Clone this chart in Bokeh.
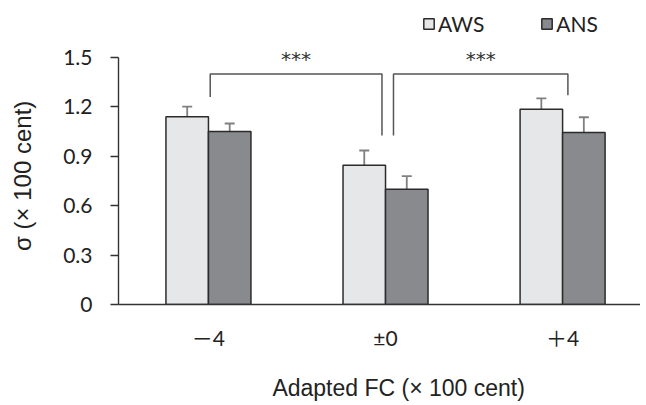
from bokeh.plotting import figure
from bokeh.models import (ColumnDataSource, Range1d, FixedTicker, Whisker, Legend, LegendItem)
from bokeh.transform import dodge
from bokeh.core.properties import value
from bokeh.embed import file_html
from bokeh.resources import INLINE

# ---- data ----
categories = ["－4", "±0", "＋4"]
cat_pos = [0, 1, 2]
aws = [1.14, 0.846, 1.186]
aws_lo = [1.081, 0.753, 1.123]
aws_hi = [1.202, 0.935, 1.251]
ans = [1.05, 0.70, 1.044]
ans_lo = [1.002, 0.621, 0.947]
ans_hi = [1.099, 0.779, 1.137]
y_ticks = [0, 0.3, 0.6, 0.9, 1.2, 1.5]
y_tick_labels = ["0", "0.3", "0.6", "0.9", "1.2", "1.5"]
# significance brackets: (x_left, x_right, y_top, y_left_bottom, y_right_bottom)
brackets = [(0.01, 0.98, 1.40, 1.26, 1.026), (1.045, 2.03, 1.40, 1.026, 1.27)]
stars = ["***", "***"]
x_title = "Adapted FC (× 100 cent)"
y_title = "σ (× 100 cent)"

NB = "\u00a0"
W, H = 640, 404
BW = 0.24
PX = 164.7  # pixels per unit on y
FONT = "Lato, 'Noto Sans CJK JP'"
TFONT = "'Liberation Sans', 'Noto Sans CJK JP'"

p = figure(width=W, height=H, output_backend="svg", toolbar_location=None,
           x_range=Range1d(-0.508, 2.44), y_range=Range1d(0, 304 / PX),
           min_border_left=118, min_border_right=0, min_border_top=0, min_border_bottom=100)
p.xgrid.visible = False
p.ygrid.visible = False
p.outline_line_color = None

src = ColumnDataSource(dict(x=cat_pos, aws=aws, ans=ans, aws_lo=aws_lo, aws_hi=aws_hi,
                            ans_lo=ans_lo, ans_hi=ans_hi))

r1 = p.vbar(x=dodge("x", -BW / 2, range=p.x_range), top="aws", width=BW, source=src,
            fill_color="#e6e7e8", line_color="#2b2b2b", line_width=1.5)
r2 = p.vbar(x=dodge("x", BW / 2, range=p.x_range), top="ans", width=BW, source=src,
            fill_color="#898a8d", line_color="#2b2b2b", line_width=1.5)

for base, lo, hi in [(dodge("x", -BW / 2, range=p.x_range), "aws_lo", "aws_hi"),
                     (dodge("x", BW / 2, range=p.x_range), "ans_lo", "ans_hi")]:
    w = Whisker(base=base, lower=lo, upper=hi, source=src, dimension="height",
                line_color="#808080", line_width=1.8)
    for h in (w.upper_head, w.lower_head):
        h.size = 10
        h.line_color = "#808080"
        h.line_width = 1.8
    p.add_layout(w)

# brackets
for (xl, xr, yt, ylb, yrb), s in zip(brackets, stars):
    p.line(x=[xl, xl, xr, xr], y=[ylb, yt, yt, yrb], line_color="#555555", line_width=1.5)
    p.text(x=[(xl + xr) / 2], y=[1.493], text=[s], text_align="center", text_baseline="middle",
           text_font=value("DejaVu Sans"), text_font_size="20px", text_color="#333333")

# axes
p.yaxis.ticker = FixedTicker(ticks=y_ticks)
p.yaxis.major_label_overrides = {t: l for t, l in zip(y_ticks, y_tick_labels)}
p.yaxis.bounds = (0, 1.5)
p.yaxis.minor_tick_line_color = None
p.yaxis.major_tick_out = 8
p.yaxis.major_tick_in = 0
p.yaxis.axis_line_color = "#333333"
p.yaxis.axis_line_width = 1.4
p.yaxis.major_tick_line_color = "#333333"
p.yaxis.major_tick_line_width = 1.4
p.yaxis.major_label_text_font = FONT
p.yaxis.major_label_text_font_size = "21px"
p.yaxis.major_label_text_color = "#222222"
p.yaxis.major_label_standoff = 18
# trailing no-break spaces shift the centred title toward the 0–1.5 span
p.yaxis.axis_label = y_title + NB * 7
p.yaxis.axis_label_text_font = TFONT
p.yaxis.axis_label_text_font_style = "normal"
p.yaxis.axis_label_text_font_size = "24px"
p.yaxis.axis_label_text_color = "#222222"
p.yaxis.axis_label_standoff = 24

p.xaxis.ticker = FixedTicker(ticks=cat_pos)
p.xaxis.major_label_overrides = {c: l for c, l in zip(cat_pos, categories)}
p.xaxis.major_tick_line_color = None
p.xaxis.minor_tick_line_color = None
p.xaxis.axis_line_color = "#333333"
p.xaxis.axis_line_width = 1.4
p.xaxis.major_label_text_font = FONT
p.xaxis.major_label_text_font_size = "21px"
p.xaxis.major_label_text_color = "#222222"
p.xaxis.major_label_standoff = 14
p.xaxis.axis_label = NB * 6 + x_title
p.xaxis.axis_label_text_font = TFONT
p.xaxis.axis_label_text_font_style = "normal"
p.xaxis.axis_label_text_font_size = "23px"
p.xaxis.axis_label_text_color = "#222222"
p.xaxis.axis_label_standoff = 22

legend = Legend(items=[LegendItem(label="AWS", renderers=[r1]), LegendItem(label="ANS", renderers=[r2])],
                orientation="horizontal", location=(304, 268), glyph_width=13, glyph_height=13,
                label_standoff=3, spacing=56, padding=0, margin=0, border_line_color=None,
                background_fill_alpha=0, label_text_font=FONT, label_text_font_size="21px",
                label_text_color="#222222")
p.add_layout(legend)

open("out.html", "w").write(file_html(p, INLINE))
